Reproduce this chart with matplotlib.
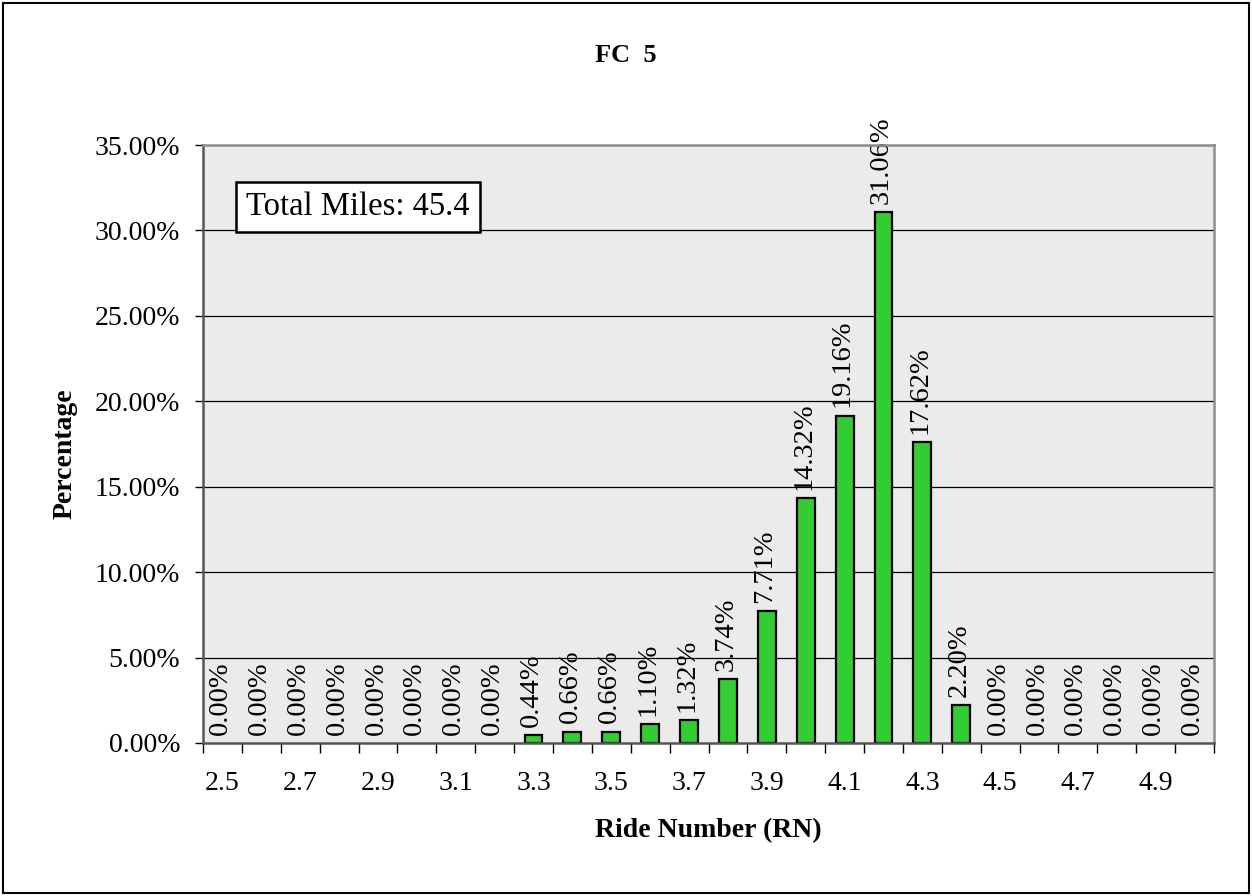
import matplotlib
matplotlib.use("Agg")
import matplotlib.pyplot as plt
from matplotlib.patches import Rectangle
from matplotlib.ticker import FixedLocator, FuncFormatter

plt.rcParams['font.family'] = ['Liberation Serif', 'DejaVu Serif']

categories = ["2.5", "2.6", "2.7", "2.8", "2.9", "3.0", "3.1", "3.2", "3.3", "3.4",
              "3.5", "3.6", "3.7", "3.8", "3.9", "4.0", "4.1", "4.2", "4.3", "4.4",
              "4.5", "4.6", "4.7", "4.8", "4.9", "5.0"]
percentages = [0.00, 0.00, 0.00, 0.00, 0.00, 0.00, 0.00, 0.00, 0.44, 0.66,
               0.66, 1.10, 1.32, 3.74, 7.71, 14.32, 19.16, 31.06, 17.62, 2.20,
               0.00, 0.00, 0.00, 0.00, 0.00, 0.00]
y_ticks = [0, 5, 10, 15, 20, 25, 30, 35]
title = "FC  5"
x_label = "Ride Number (RN)"
y_label = "Percentage"
note = "Total Miles: 45.4"

W, H = 1252, 896
fig = plt.figure(figsize=(W / 100, H / 100), dpi=100)
ax = fig.add_axes([203 / W, 1 - 743 / H, (1214 - 203) / W, (743 - 145) / H])
ax.set_facecolor('#ebebeb')

x = list(range(len(categories)))
ax.bar(x, percentages, width=0.46, color='#33cc33', edgecolor='black',
       linewidth=[1.6 if v > 0 else 0 for v in percentages], zorder=2)

for yt in y_ticks[1:-1]:
    ax.axhline(yt, color='black', lw=0.9, zorder=1)

for xi, v in zip(x, percentages):
    ax.annotate(f"{v:.2f}%", (xi, v), xytext=(-1.5, 6), textcoords='offset points',
                rotation=90, ha='center', va='bottom', fontsize=20.5, zorder=0.8,
                annotation_clip=False)

ax.set_xlim(-0.5, len(categories) - 0.5)
ax.set_ylim(0, 35)
ax.yaxis.set_major_locator(FixedLocator(y_ticks))
ax.yaxis.set_major_formatter(FuncFormatter(lambda v, p: f"{v:.2f}%"))
ax.tick_params(axis='y', labelsize=20, length=6, width=1, pad=10.5, colors='black')

ax.set_xticks(x)
ax.set_xticklabels([c if i % 2 == 0 else "" for i, c in enumerate(categories)])
ax.set_xticks([i - 0.5 for i in range(len(categories) + 1)], minor=True)
ax.tick_params(axis='x', which='major', length=0, labelsize=20, pad=20)
ax.tick_params(axis='x', which='minor', length=7, width=1)

for s in ['top', 'right']:
    ax.spines[s].set_color('#8c8c8c')
    ax.spines[s].set_linewidth(1.8)
for s in ['left', 'bottom']:
    ax.spines[s].set_color('#555555')
    ax.spines[s].set_linewidth(1.8)

fig.text(358 / W, 1 - 207 / H, note, ha='center', va='center', fontsize=23.5,
         bbox=dict(boxstyle='square,pad=0.3', facecolor='white', edgecolor='black', lw=1.8))

fig.text(626 / W, 1 - 55 / H, title, ha='center', va='center', fontsize=19, fontweight='bold')
fig.text(708 / W, 1 - 831 / H, x_label, ha='center', va='center', fontsize=20, fontweight='bold')
fig.text(65 / W, 1 - 454 / H, y_label, ha='center', va='center', rotation=90,
         fontsize=20, fontweight='bold')

fig.patches.append(Rectangle((3 / W, 3 / H), 1 - 6 / W, 1 - 6 / H, transform=fig.transFigure,
                             fill=False, edgecolor='black', lw=1.5))

fig.savefig('out.png', dpi=100)
